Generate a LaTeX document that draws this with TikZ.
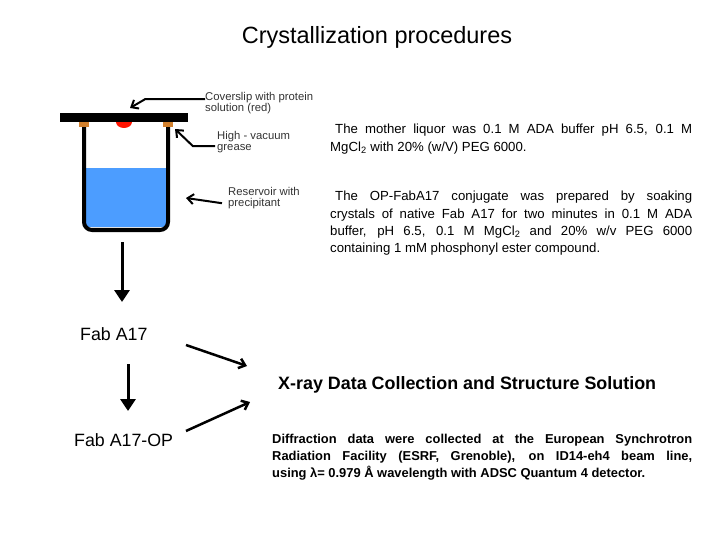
\documentclass[tikz,border=0pt]{standalone}
\usepackage{fontspec}
\setmainfont{Liberation Sans}
\usetikzlibrary{arrows.meta}
\begin{document}
\begin{tikzpicture}[x=1pt,y=-1pt,
  lbl/.style={anchor=north west,inner sep=0pt,font=\fontsize{11.3}{11.5}\selectfont,text=black!80,align=left},
  para/.style={anchor=north west,inner sep=0pt,text width=362pt,align=justify,font=\fontsize{13.2}{17.3}\selectfont},
  bigarrow/.style={line width=3pt,-{Triangle[length=12pt,width=15pt]}},
  thinarrow/.style={line width=2pt,-{Straight Barb[length=6pt,width=10pt]}}]
\useasboundingbox (0,0) rectangle (720,540);
\node (title) at (377,37) {\fontsize{23.5}{26}\selectfont Crystallization procedures};
% beaker
\fill[blue!55!cyan!70] (86,168) rectangle (166,227);
\draw[line width=4pt,rounded corners=8pt] (84,122) -- (84,230) -- (168,230) -- (168,122);
\fill[brown!70!orange] (79,120) rectangle (89,127);
\fill[brown!70!orange] (163,120) rectangle (173,127);
\fill[red!85!orange] (124,122) ellipse (8pt and 6pt);
\fill[black] (60,113) rectangle (188,122);
% labels
\node[lbl] (cov) at (205,92) {Coverslip with protein\\solution (red)};
\node[lbl] (gr) at (217,131) {High - vacuum\\grease};
\node[lbl] (res) at (228,187) {Reservoir with\\precipitant};
\coordinate (c1) at (130,108);
\coordinate (g1) at (175,129);
\coordinate (r1) at (186,198);
\draw[thinarrow] (cov.west) ++(0,-4) -- ++(-60,0) -- (c1);
\draw[thinarrow] (gr.west) ++(-2,4) -- ++(-22,0) -- (g1);
\draw[thinarrow] (res.west) ++(-6,5) -- (r1);
% paragraphs
\node[para] (p1) at (330,124) {\hspace*{5pt}The mother liquor was 0.1 M ADA buffer pH 6.5, 0.1 M\linebreak MgCl\textsubscript{2} with 20\% (w/V) PEG 6000.};
\node[para] (p2) at (330,191) {\hspace*{5pt}The OP-FabA17 conjugate was prepared by soaking\linebreak crystals of native Fab A17 for two minutes in 0.1 M ADA\linebreak buffer, pH 6.5, 0.1 M MgCl\textsubscript{2} and 20\% w/v PEG 6000\linebreak containing 1 mM phosphonyl ester compound.};
% flow
\node[inner sep=0pt,anchor=west,font=\fontsize{17.8}{20}\selectfont] (fab) at (80,334) {Fab A17};
\node[inner sep=0pt,anchor=west,font=\fontsize{17.8}{20}\selectfont] (fabop) at (74,440) {Fab A17-OP};
\node[inner sep=0pt,anchor=west,font=\bfseries\fontsize{17.9}{20}\selectfont] (xray) at (278,385) {X-ray Data Collection and Structure Solution};
\node[para,text width=420pt,font=\bfseries\fontsize{12.9}{17}\selectfont] (p3) at (272,434) {Diffraction data were collected at the European Synchrotron\linebreak Radiation Facility (ESRF, Grenoble), on ID14-eh4 beam line,\linebreak using λ= 0.979 Å wavelength with ADSC Quantum 4 detector.};
\coordinate (b0) at (122,242);
\draw[bigarrow] (b0) -- (122,302);
\draw[bigarrow] (128,364) -- (128,411);
\draw[thinarrow,line width=2.5pt] (186,345) -- (247,366);
\draw[thinarrow,line width=2.5pt] (186,431) -- (250,402);
\end{tikzpicture}
\end{document}
